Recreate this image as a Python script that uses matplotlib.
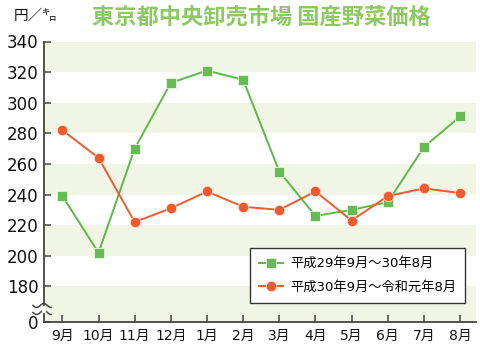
import numpy as np
import matplotlib
matplotlib.use("Agg")
import matplotlib.pyplot as plt
from matplotlib.lines import Line2D

plt.rcParams['font.family'] = ['DejaVu Sans', 'Noto Sans CJK JP']

months = ['9月', '10月', '11月', '12月', '1月', '2月', '3月', '4月', '5月', '6月', '7月', '8月']
series1_label = '平成29年9月～30年8月'
series1 = [239, 202, 270, 313, 321, 315, 255, 226, 230, 235, 271, 291]
series2_label = '平成30年9月～令和元年8月'
series2 = [282, 264, 222, 231, 242, 232, 230, 242, 223, 239, 244, 241]
yticks = [180, 200, 220, 240, 260, 280, 300, 320, 340]
title = '東京都中央卸売市場 国産野菜価格'
unit = '円／㌔'

green = '#5db846'
orange = '#ef5b2f'
band = '#f1f5e5'
spine_c = '#444444'

fig = plt.figure(figsize=(4.8, 3.53), dpi=100)
W, H = 480, 353
ax_l, ax_r, ax_t, ax_b = 44.3, 476, 41.5, 322
ax = fig.add_axes([ax_l / W, 1 - ax_b / H, (ax_r - ax_l) / W, (ax_b - ax_t) / H])

y_bottom = 156.7  # display position of the "0" label (broken axis)
ax.set_ylim(y_bottom, 340)
ax.set_xlim(-0.5, 11.44)

# alternating bands
edges = [y_bottom] + yticks
for i in range(len(edges) - 1):
    if i % 2 == 0:
        ax.axhspan(edges[i], edges[i + 1], color=band, lw=0, zorder=0)

x = np.arange(len(months))
ax.plot(x, series1, color=green, lw=1.4, marker='s', ms=7.5, mfc='#66bb55',
        mec='#e8f4e0', mew=0.6, zorder=3)
ax.plot(x, series2, color=orange, lw=1.4, marker='o', ms=7.5, mfc=orange,
        mec='#fbe0d6', mew=0.6, zorder=4)

for s in ['top', 'right']:
    ax.spines[s].set_visible(False)
for s in ['left', 'bottom']:
    ax.spines[s].set_color(spine_c)
    ax.spines[s].set_linewidth(1.3)

ax.set_yticks([y_bottom] + yticks)
ax.set_yticklabels(['0'] + [str(v) for v in yticks])
ax.tick_params(axis='y', direction='in', length=5, width=1.1, color=spine_c,
               labelsize=12, pad=4, labelcolor='#111111')
ax.set_xticks(x)
ax.set_xticklabels(months)
ax.tick_params(axis='x', direction='in', length=5, width=1.1, color=spine_c,
               labelsize=10, pad=5, labelcolor='#111111')

# axis break mark
tr = fig.transFigure
def px(xp, yp):
    return xp / W, 1 - yp / H
xs = np.linspace(33, 51, 40)
for yc in (305.5, 312.5):
    ys = yc + 2.0 * np.sin((xs - 33) / 18 * 2 * np.pi * 1.25)
    fx, fy = px(xs, ys)
    fig.add_artist(Line2D(fx, fy, color=spine_c, lw=1.1, transform=tr))
fx, fy = px(np.array([ax_l, ax_l]), np.array([307.5, 310.5]))
fig.add_artist(Line2D(fx, fy, color='white', lw=3, transform=tr))

# legend
handles = [Line2D([], [], color=green, lw=1.4, marker='s', ms=7.5, mfc='#66bb55', mec='#e8f4e0', mew=0.6),
           Line2D([], [], color=orange, lw=1.4, marker='o', ms=7.5, mfc=orange, mec='#fbe0d6', mew=0.6)]
leg = ax.legend(handles, [series1_label, series2_label], loc='lower right',
                bbox_to_anchor=(0.975, 0.068), fontsize=9.5, frameon=True,
                fancybox=False, edgecolor='#333333', framealpha=1,
                handlelength=1.8, handletextpad=0.5, borderpad=0.7,
                labelspacing=0.8, borderaxespad=0)
leg.get_frame().set_linewidth(1.0)
leg.set_zorder(10)

fig.text(14 / W, 1 - 16 / H, unit, fontsize=10.5, va='center', ha='left',
         family=['Noto Sans CJK JP', 'DejaVu Sans'], color='#111111')
fig.text(261 / W, 1 - 17 / H, title, fontsize=16, fontweight='bold', va='center',
         ha='center', family=['Noto Sans CJK JP', 'DejaVu Sans'], color='#8dc961')

fig.savefig('out.png', dpi=100)
